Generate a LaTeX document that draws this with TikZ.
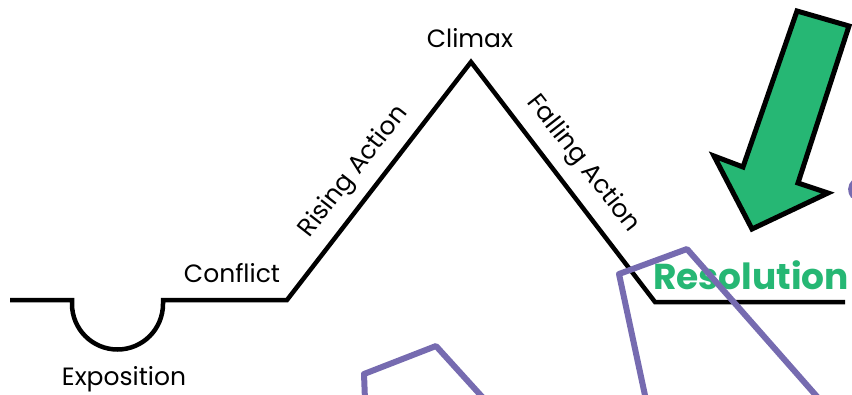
\documentclass[tikz,border=0pt]{standalone}
\usepackage{fontspec}
\setmainfont{Poppins}
\definecolor{resgreen}{RGB}{38,183,116}
\definecolor{plotpurple}{RGB}{118,107,176}
\begin{document}
\begin{tikzpicture}[x=1pt,y=-1pt,
  plotline/.style={line width=4.5pt, line join=miter},
  lbl/.style={font=\fontsize{25}{28}\selectfont, inner sep=0pt},
  reslbl/.style={font=\fontsize{36}{40}\selectfont\bfseries, text=resgreen, inner sep=0pt},
  purp/.style={draw=plotpurple, line width=6pt, line join=round},
  bigarrow/.style={draw=black, line width=5pt, fill=resgreen, line join=miter}]
\useasboundingbox (0,0) rectangle (852,394);
% plot line
\coordinate (start) at (10,300);
\coordinate (dipL) at (72,300);
\coordinate (dipLd) at (72,304);
\coordinate (dipR) at (163,300);
\coordinate (conf) at (287,300);
\coordinate (peak) at (471,62);
\coordinate (res) at (655,302);
\coordinate (finish) at (845,302);
\draw[plotline] (start) -- (dipL) -- (dipLd) arc[start angle=180,end angle=0,radius=45.5] -- (dipR) -- (conf) -- (peak) -- (res) -- (finish);
% labels
\node[lbl] (climax) at (470,38) {Climax};
\node[lbl] (conflict) at (232,273) {Conflict};
\node[lbl] (expo) at (124,379) {Exposition};
\node[lbl, rotate=52] (rising) at (354,172) {Rising Action};
\node[lbl, rotate=-52] (falling) at (583,164) {Falling Action};
\node[reslbl] (resol) at (751,275) {Resolution};
% green arrow
\draw[bigarrow] (797,11) -- (849,26) -- (798,183) -- (828,193) -- (752,229) -- (714,156) -- (743,167) -- cycle;
% purple shapes
\draw[purp] (365,400) -- (364,374) -- (436,346) -- (485,400);
\draw[purp] (646,400) -- (619,274) -- (687,249) -- (820,400);
\draw[purp, line width=4pt] (854,181) .. controls (849,186) and (849,192) .. (853,197);
\end{tikzpicture}
\end{document}
